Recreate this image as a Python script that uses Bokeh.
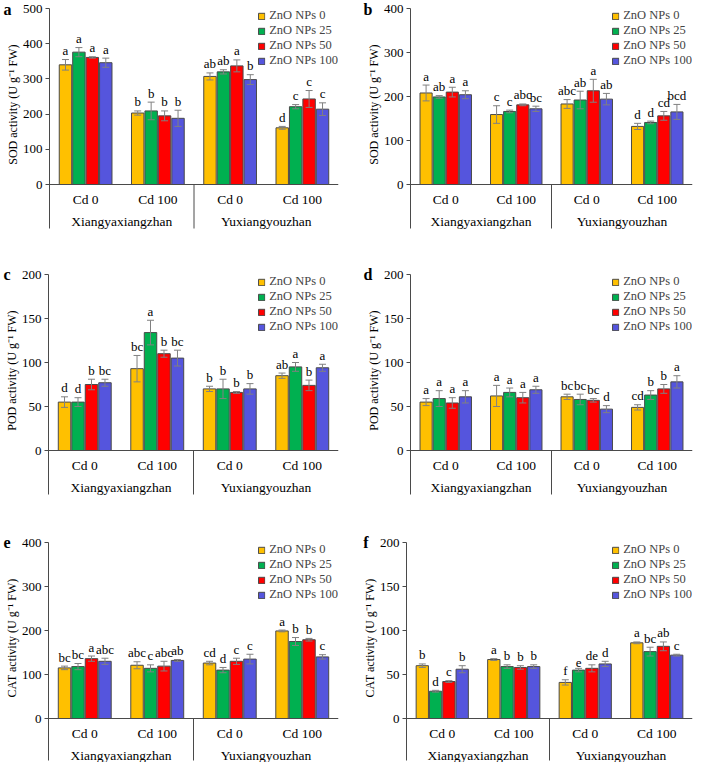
import numpy as np
from bokeh.plotting import figure
from bokeh.models import (ColumnDataSource, Range1d, FixedTicker, Whisker, TeeHead, Title,
                          LinearAxis, Spacer)
from bokeh.layouts import column, row
from bokeh.embed import file_html
from bokeh.resources import INLINE
from bokeh.core.properties import value

# ---------------- data ----------------
cultivars = ["Xiangyaxiangzhan", "Yuxiangyouzhan"]
cd_levels = ["Cd 0", "Cd 100"]
series_names = ["ZnO NPs 0", "ZnO NPs 25", "ZnO NPs 50", "ZnO NPs 100"]
colors = ["#FFC000", "#00B050", "#FF0000", "#5555DD"]

# rows: ZnO NPs 0, 25, 50, 100 ; columns: X-Cd0, X-Cd100, Y-Cd0, Y-Cd100
a_mean = [[340, 203, 307, 161], [376, 209, 320, 221], [361, 195, 337, 243], [346, 188, 298, 214]]
a_err = [[15, 6, 10, 4], [13, 25, 6, 6], [2, 14, 17, 24], [13, 23, 14, 18]]
a_sig = [["a", "b", "ab", "d"], ["a", "b", "ab", "c"], ["a", "b", "a", "c"], ["a", "b", "b", "c"]]

b_mean = [[208, 159, 183, 132], [199, 166, 192, 141], [210, 181, 213, 156], [204, 172, 194, 165]]
b_err = [[18, 20, 10, 7], [3, 3, 20, 3], [11, 2, 26, 10], [9, 6, 13, 17]]
b_sig = [["a", "c", "abc", "d"], ["ab", "c", "ab", "d"], ["a", "abc", "a", "cd"], ["a", "bc", "ab", "bcd"]]

c_mean = [[55, 93, 70, 85], [55, 134, 70, 95], [75, 110, 66, 74], [77, 105, 70, 94]]
c_err = [[6, 15, 3, 3], [5, 14, 11, 5], [6, 4, 1, 6], [4, 9, 6, 4]]
c_sig = [["d", "bc", "b", "ab"], ["d", "a", "b", "a"], ["b", "b", "b", "b"], ["bc", "bc", "b", "a"]]

d_mean = [[55, 62, 61, 49], [59, 66, 58, 63], [54, 60, 57, 70], [61, 69, 47, 78]]
d_err = [[4, 12, 3, 3], [9, 5, 6, 5], [6, 6, 2, 5], [7, 4, 4, 7]]
d_sig = [["a", "a", "bc", "cd"], ["a", "a", "bc", "b"], ["a", "a", "bc", "b"], ["a", "a", "d", "a"]]

e_mean = [[115, 121, 126, 199], [118, 114, 110, 175], [136, 119, 130, 179], [130, 132, 135, 140]]
e_err = [[4, 8, 4, 2], [7, 8, 6, 9], [6, 11, 7, 3], [7, 2, 11, 5]]
e_sig = [["bc", "abc", "cd", "a"], ["bc", "c", "d", "b"], ["a", "abc", "c", "b"], ["abc", "ab", "c", "c"]]

f_mean = [[60, 67, 41, 86], [31, 59, 55, 76], [42, 58, 57, 82], [56, 59, 62, 72]]
f_err = [[2, 1, 3, 1], [1, 2, 2, 5], [1, 2, 4, 5], [4, 2, 3, 1]]
f_sig = [["b", "a", "f", "a"], ["d", "b", "e", "bc"], ["c", "b", "de", "ab"], ["b", "b", "d", "c"]]

unit = " (U g\u207b\u00b9 FW)"
panels = [
    ("a", "SOD activity" + unit, 500, 100, a_mean, a_err, a_sig),
    ("b", "SOD activity" + unit, 400, 100, b_mean, b_err, b_sig),
    ("c", "POD activity" + unit, 200, 50, c_mean, c_err, c_sig),
    ("d", "POD activity" + unit, 200, 50, d_mean, d_err, d_sig),
    ("e", "CAT activity" + unit, 400, 100, e_mean, e_err, e_sig),
    ("f", "CAT activity" + unit, 200, 50, f_mean, f_err, f_sig),
]

# ---------------- layout ----------------
FONT = "'Liberation Serif', 'Times New Roman', serif"
AX = "#4a4a4a"
col_w = [346, 333]
gap_w = 14
col_lb = [44, 44]
col_rb = [8, 1]
row_h = [264, 268, 230]
row_tb = [8, 10, 10]
row_hb = [46, 46, 44]
HV = 176
n_groups = len(cultivars) * len(cd_levels)
slot = 0.186
bw = 0.172


def make_panel(idx, tag, ylabel, ymax, ystep, mean, err, sig):
    r, c = divmod(idx, 2)
    hb = row_hb[r]
    ppu = HV / ymax
    ext = hb / ppu
    frame_h = HV + hb
    p = figure(width=col_w[c], height=row_h[r],
               x_range=Range1d(0, n_groups), y_range=Range1d(-ext, ymax),
               x_axis_location=None, output_backend="svg", toolbar_location=None,
               min_border_left=col_lb[c], min_border_right=col_rb[c],
               min_border_top=row_tb[r], min_border_bottom=row_h[r] - row_tb[r] - frame_h)
    p.outline_line_color = None
    p.grid.grid_line_color = None
    p.background_fill_color = "white"

    yax = p.yaxis[0]
    yax.ticker = FixedTicker(ticks=list(range(0, ymax + 1, ystep)))
    yax.bounds = (-(hb - 2) / ppu, ymax)
    yax.axis_line_color = AX
    yax.major_tick_line_color = AX
    yax.major_tick_out = 4
    yax.major_tick_in = 0
    yax.minor_tick_line_color = None
    yax.major_label_text_font = FONT
    yax.major_label_text_font_size = "13px"
    yax.major_label_text_color = "black"
    yax.major_label_standoff = 3

    for i, name in enumerate(series_names):
        xs = [g + 0.5 + (i - 1.5) * slot for g in range(n_groups)]
        tops = mean[i]
        ups = [m + e for m, e in zip(mean[i], err[i])]
        los = [m - e for m, e in zip(mean[i], err[i])]
        src = ColumnDataSource(dict(x=xs, top=tops, upper=ups, lower=los,
                                    lab_y=[u + 1.5 / ppu for u in ups], sig=sig[i]))
        p.vbar(x="x", top="top", bottom=0, width=bw, source=src,
               fill_color=colors[i], line_color="#4a4a4a", line_width=1,
               legend_label=name)
        wh = Whisker(source=src, base="x", upper="upper", lower="lower",
                     dimension="height", line_color="#808080", line_width=1,
                     upper_head=TeeHead(size=7, line_color="#808080", line_width=1),
                     lower_head=TeeHead(size=7, line_color="#808080", line_width=1),
                     level="annotation")
        p.add_layout(wh)
        p.text(x="x", y="lab_y", text="sig", source=src, text_align="center",
               text_baseline="bottom", text_font=value(FONT), text_font_size="13px",
               text_color="black")

    # x axis line, separator and category labels
    p.segment(x0=[0], y0=[0], x1=[n_groups], y1=[0], line_color=AX, line_width=1)
    p.segment(x0=[n_groups / 2], y0=[0], x1=[n_groups / 2], y1=[-(hb - 2) / ppu],
              line_color=AX, line_width=1)
    p.text(x=[g + 0.5 for g in range(n_groups)], y=[-15 / ppu] * n_groups,
           text=cd_levels * len(cultivars), text_align="center", text_baseline="middle",
           text_font=value(FONT), text_font_size="13.5px", text_color="black")
    p.text(x=[2 * k + 1 for k in range(len(cultivars))], y=[-37 / ppu] * len(cultivars),
           text=cultivars, text_align="center", text_baseline="middle",
           text_font=value(FONT), text_font_size="13.5px", text_color="black")

    # y label as a side title
    t = Title(text=ylabel, align="right", offset=36, text_font=FONT,
              text_font_size="12px", text_font_style="normal", text_color="black",
              standoff=0)
    p.add_layout(t, "left")

    # panel tag drawn as the single tick label of an outer (line-less) axis
    tag_ax = LinearAxis(ticker=FixedTicker(ticks=[ymax]), major_label_overrides={ymax: tag},
                        axis_line_color=None, major_tick_line_color=None,
                        minor_tick_line_color=None, major_tick_out=0, major_tick_in=0,
                        major_label_standoff=-8, major_label_text_font=FONT,
                        major_label_text_font_size="16px", major_label_text_font_style="bold",
                        major_label_text_color="black")
    p.add_layout(tag_ax, "left")

    lg = p.legend[0]
    lg.location = "top_right"
    lg.margin = 0
    lg.padding = 0
    lg.spacing = -3
    lg.label_height = 12
    lg.glyph_height = 8
    lg.glyph_width = 8
    lg.label_standoff = 4
    lg.label_text_font = FONT
    lg.label_text_font_size = "12.5px"
    lg.border_line_alpha = 0
    lg.background_fill_alpha = 0
    return p


figs = [make_panel(k, *pnl) for k, pnl in enumerate(panels)]
rows = [row(figs[2 * k], Spacer(width=gap_w, height=row_h[k]), figs[2 * k + 1])
        for k in range(3)]
layout = column(*rows)

open("out.html", "w").write(file_html(layout, INLINE))
